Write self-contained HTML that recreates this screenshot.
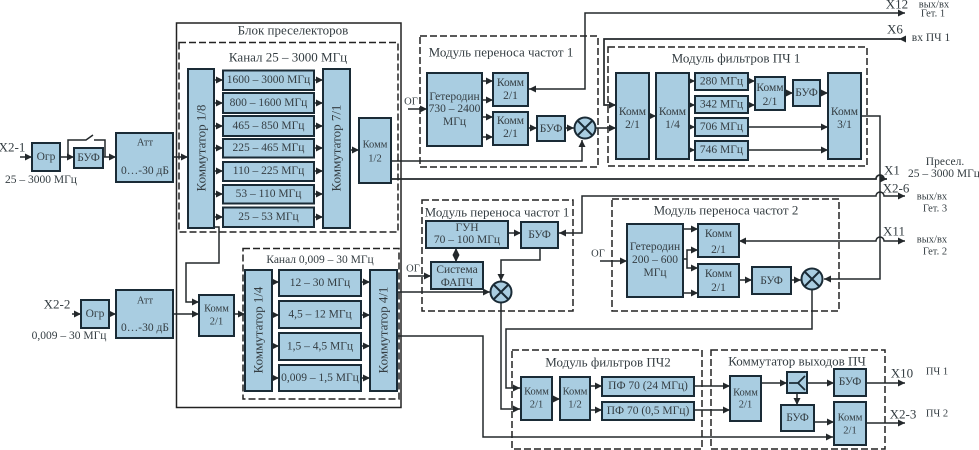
<!DOCTYPE html>
<html><head><meta charset="utf-8"><style>
html,body{margin:0;padding:0;background:#fff}
svg{display:block;filter:blur(.3px)}
text{font-family:"Liberation Serif",serif;fill:#343d42;font-size:11.5px;text-anchor:middle;dominant-baseline:central}
.b{fill:#a9cde1;stroke:#1a2b36;stroke-width:2}
.d{fill:none;stroke:#222;stroke-width:1.5;stroke-dasharray:7 3}
.l{fill:none;stroke:#23282b;stroke-width:1.5}
.t{font-size:13px}
.s{font-size:10.5px}
.m{fill:#a9cde1;stroke:#1a2b36;stroke-width:2}
</style></head><body>
<svg width="979" height="450" viewBox="0 0 979 450" xmlns="http://www.w3.org/2000/svg">
<defs>
<marker id="a" markerUnits="userSpaceOnUse" markerWidth="8" markerHeight="7" refX="7" refY="3.5" orient="auto-start-reverse"><path d="M0 0L7 3.5L0 7z" fill="#23282b"/></marker>
</defs>

<rect x="176.500" y="23" width="224.500" height="384.500" fill="none" stroke="#222" stroke-width="1.5"/>
<rect class="d" x="179" y="42.500" width="219" height="189.500"/>
<rect class="d" x="243" y="248.500" width="156" height="150.500"/>
<rect class="d" x="420" y="36" width="178" height="131"/>
<rect class="d" x="608" y="47" width="259" height="119"/>
<rect class="d" x="422" y="200" width="151" height="111"/>
<rect class="d" x="612" y="199" width="227" height="112"/>
<rect class="d" x="512" y="350" width="190" height="99"/>
<rect class="d" x="711" y="350" width="174" height="99"/>

<g class="l">
<path d="M20 157H32" marker-end="url(#a)"/>
<path d="M60 157H74" marker-end="url(#a)"/>
<path d="M103 157H116" marker-end="url(#a)"/>
<path d="M68 157V140H86L93 135M94 140H105V157"/>
<path d="M173 157H188" marker-end="url(#a)"/>
<path d="M214 80H223" marker-end="url(#a)"/><path d="M214 103H223" marker-end="url(#a)"/><path d="M214 126H223" marker-end="url(#a)"/><path d="M214 148H223" marker-end="url(#a)"/><path d="M214 171H223" marker-end="url(#a)"/><path d="M214 194H223" marker-end="url(#a)"/><path d="M214 217H223" marker-end="url(#a)"/>
<path d="M314 80H323" marker-end="url(#a)"/><path d="M314 103H323" marker-end="url(#a)"/><path d="M314 126H323" marker-end="url(#a)"/><path d="M314 148H323" marker-end="url(#a)"/><path d="M314 171H323" marker-end="url(#a)"/><path d="M314 194H323" marker-end="url(#a)"/><path d="M314 217H323" marker-end="url(#a)"/>
<path d="M350 150H359" marker-end="url(#a)"/>
<path d="M214 227H219V263H186V302H199" marker-end="url(#a)"/>
<path d="M72 314H81" marker-end="url(#a)"/>
<path d="M109 314H116" marker-end="url(#a)"/>
<path d="M173 314H199" marker-end="url(#a)"/>
<path d="M234 314H245" marker-end="url(#a)"/>
<path d="M272 282H279" marker-end="url(#a)"/><path d="M272 315H279" marker-end="url(#a)"/><path d="M272 346H279" marker-end="url(#a)"/><path d="M272 378H279" marker-end="url(#a)"/>
<path d="M361 282H370" marker-end="url(#a)"/><path d="M361 315H370" marker-end="url(#a)"/><path d="M361 346H370" marker-end="url(#a)"/><path d="M361 378H370" marker-end="url(#a)"/>
<path d="M391 161H582V140" marker-end="url(#a)"/>
<path d="M391 179H876a4 4 0 0 1 8 0H887" marker-end="url(#a)" stroke-width="1.8"/>
<path d="M408 109H427" marker-end="url(#a)"/>
<path d="M482 81H493" marker-end="url(#a)"/><path d="M482 100H493" marker-end="url(#a)"/><path d="M482 117H493" marker-end="url(#a)"/><path d="M482 137H493" marker-end="url(#a)"/>
<path d="M528 128H537" marker-end="url(#a)"/>
<path d="M565 128H574" marker-end="url(#a)"/>
<path d="M596 128H616" marker-end="url(#a)"/>
<path d="M905 13H585V89H529" marker-start="url(#a)" marker-end="url(#a)"/>
<path d="M900 39H604V105H616" marker-end="url(#a)" stroke-width="1.7"/>
<path d="M906 39H899" marker-end="url(#a)"/>
<path d="M649 116H656" marker-end="url(#a)"/>
<path d="M689 81H695" marker-end="url(#a)"/><path d="M689 105H695" marker-end="url(#a)"/><path d="M689 127H695" marker-end="url(#a)"/><path d="M689 150H695" marker-end="url(#a)"/>
<path d="M748 81H755" marker-end="url(#a)"/><path d="M748 105H755" marker-end="url(#a)"/>
<path d="M785 93H793" marker-end="url(#a)"/><path d="M820 93H828" marker-end="url(#a)"/>
<path d="M748 127H828" marker-end="url(#a)"/><path d="M748 150H828" marker-end="url(#a)"/>
<path d="M861 116H880V279H824" marker-end="url(#a)"/>
<path d="M559 233H582V196H876a4 4 0 0 1 8 0H905" marker-start="url(#a)" marker-end="url(#a)"/>
<path d="M739 241H876a4 4 0 0 1 8 0H905" marker-start="url(#a)" marker-end="url(#a)"/>
<path d="M508 233H521" marker-end="url(#a)"/>
<path d="M456 248V262" marker-start="url(#a)" marker-end="url(#a)"/>
<path d="M540 248V260H501V281" marker-end="url(#a)"/>
<path d="M408 276H431" marker-end="url(#a)"/>
<path d="M397 292H490" marker-end="url(#a)"/>
<path d="M397 336H483V437H833" marker-end="url(#a)"/>
<path d="M501 303V409H520" marker-end="url(#a)"/>
<path d="M812 290V329H506V388H520" marker-end="url(#a)"/>
<path d="M600 261H627" marker-end="url(#a)"/>
<path d="M683 229H698" marker-end="url(#a)"/>
<path d="M683 293H698" marker-end="url(#a)"/>
<path d="M698 250H687V268H698" marker-start="url(#a)" marker-end="url(#a)"/>
<path d="M683 259H687"/>
<path d="M739 280H752" marker-end="url(#a)"/>
<path d="M791 280H801" marker-end="url(#a)"/>
<path d="M552 399H560" marker-end="url(#a)"/>
<path d="M590 386H602" marker-end="url(#a)"/><path d="M590 410H602" marker-end="url(#a)"/>
<path d="M694 386H730" marker-end="url(#a)"/><path d="M694 410H730" marker-end="url(#a)"/>
<path d="M761 383H787" marker-end="url(#a)"/><path d="M807 383H834" marker-end="url(#a)"/>
<path d="M797 393V405" marker-end="url(#a)"/>
<path d="M814 422H834" marker-end="url(#a)"/>
<path d="M866 383H905" marker-end="url(#a)"/><path d="M866 423H905" marker-end="url(#a)"/>
</g>

<rect class="b" x="32" y="143" width="28" height="28"/>
<rect class="b" x="74" y="148" width="29" height="20"/>
<rect class="b" x="116" y="133" width="57" height="49" stroke-width="1.4"/>
<rect class="b" x="81" y="300" width="28" height="28"/>
<rect class="b" x="116" y="290" width="57" height="48" stroke-width="1.4"/>
<rect class="b" x="188" y="69" width="26" height="159"/>
<rect class="b" x="223" y="70.500" width="91" height="19.500"/>
<rect class="b" x="223" y="93" width="91" height="20"/>
<rect class="b" x="223" y="116" width="91" height="20"/>
<rect class="b" x="223" y="139" width="91" height="18.500"/>
<rect class="b" x="223" y="162" width="91" height="19"/>
<rect class="b" x="223" y="185" width="91" height="18.500"/>
<rect class="b" x="223" y="207.500" width="91" height="19.500"/>
<rect class="b" x="323" y="69" width="27" height="159"/>
<rect class="b" x="359" y="118" width="32" height="65"/>
<rect class="b" x="199" y="295" width="35" height="41"/>
<rect class="b" x="245" y="270" width="27" height="121"/>
<rect class="b" x="279" y="270" width="82" height="26"/>
<rect class="b" x="279" y="301" width="82" height="27"/>
<rect class="b" x="279" y="333" width="82" height="27"/>
<rect class="b" x="279" y="365" width="82" height="26"/>
<rect class="b" x="370" y="270" width="27" height="121"/>
<rect class="b" x="427" y="73" width="55" height="73"/>
<rect class="b" x="493" y="73" width="35" height="33"/>
<rect class="b" x="493" y="112" width="35" height="33"/>
<rect class="b" x="537" y="116" width="28" height="25"/>
<rect class="b" x="616" y="73" width="33" height="86"/>
<rect class="b" x="656" y="73" width="33" height="86"/>
<rect class="b" x="695" y="73" width="53" height="17"/>
<rect class="b" x="695" y="96" width="53" height="17"/>
<rect class="b" x="695" y="118" width="53" height="18"/>
<rect class="b" x="695" y="141" width="53" height="19"/>
<rect class="b" x="755" y="77" width="30" height="33"/>
<rect class="b" x="793" y="80" width="27" height="26"/>
<rect class="b" x="828" y="73" width="33" height="86"/>
<rect class="b" x="426" y="221" width="82" height="27"/>
<rect class="b" x="521" y="222" width="37" height="26"/>
<rect class="b" x="431" y="262" width="52" height="27"/>
<rect class="b" x="627" y="224" width="56" height="73"/>
<rect class="b" x="698" y="224" width="41" height="33"/>
<rect class="b" x="698" y="264" width="41" height="33"/>
<rect class="b" x="752" y="267" width="39" height="27"/>
<rect class="b" x="521" y="377" width="31" height="43"/>
<rect class="b" x="560" y="377" width="30" height="43"/>
<rect class="b" x="602" y="377" width="92" height="19"/>
<rect class="b" x="602" y="402" width="92" height="18"/>
<rect class="b" x="730" y="376" width="31" height="45"/>
<rect class="b" x="787" y="372" width="20" height="21"/>
<rect class="b" x="834" y="369" width="32" height="27"/>
<rect class="b" x="781" y="405" width="33" height="26"/>
<rect class="b" x="834" y="402" width="32" height="43"/>
<path d="M789 383H798L805 376M798 383L805 390" fill="none" stroke="#1a2b36" stroke-width="1.8"/>

<g>
<circle class="m" cx="585" cy="128" r="10.500"/><path d="M578 121L592 135M592 121L578 135" stroke="#1a2b36" stroke-width="2"/>
<circle class="m" cx="501" cy="292" r="10.500"/><path d="M494 285L508 299M508 285L494 299" stroke="#1a2b36" stroke-width="2"/>
<circle class="m" cx="812" cy="279" r="10.500"/><path d="M805 272L819 286M819 272L805 286" stroke="#1a2b36" stroke-width="2"/>
</g>

<text x="293" y="30" class="t">Блок преселекторов</text>
<text x="288" y="57" class="t">Канал 25 – 3000 МГц</text>
<text x="320" y="260">Канал 0,009 – 30 МГц</text>
<text x="501" y="52" class="t">Модуль переноса частот 1</text>
<text x="736" y="58" class="t">Модуль фильтров ПЧ 1</text>
<text x="497" y="212" class="t">Модуль переноса частот 1</text>
<text x="726" y="210" class="t">Модуль переноса частот 2</text>
<text x="608" y="362" class="t">Модуль фильтров ПЧ2</text>
<text x="797" y="361" class="t">Коммутатор выходов ПЧ</text>

<text x="12" y="147" class="t">X2-1</text>
<text x="41" y="180">25 – 3000 МГц</text>
<text x="46" y="157">Огр</text>
<text x="88.500" y="158">БУФ</text>
<text x="145" y="143" class="s">Атт</text>
<text x="145" y="171">0…-30 дБ</text>
<text x="57" y="304" class="t">X2-2</text>
<text x="69" y="336">0,009 – 30 МГц</text>
<text x="95" y="314">Огр</text>
<text x="145" y="301" class="s">Атт</text>
<text x="145" y="328">0…-30 дБ</text>

<text class="t" transform="translate(201 148) rotate(-90)">Коммутатор 1/8</text>
<text class="t" transform="translate(336 148) rotate(-90)">Коммутатор 7/1</text>
<text class="t" transform="translate(258 330) rotate(-90)">Коммутатор 1/4</text>
<text class="t" transform="translate(383 330) rotate(-90)">Коммутатор 4/1</text>

<text x="268.500" y="80">1600 – 3000 МГц</text>
<text x="268.500" y="103">800 – 1600 МГц</text>
<text x="268.500" y="126">465 – 850 МГц</text>
<text x="268.500" y="148">225 – 465 МГц</text>
<text x="268.500" y="171">110 – 225 МГц</text>
<text x="268.500" y="194">53 – 110 МГц</text>
<text x="268.500" y="217">25 – 53 МГц</text>
<text x="375" y="145" class="s">Комм</text><text x="375" y="159" class="s">1/2</text>
<text x="216.500" y="309" class="s">Комм</text><text x="216.500" y="322" class="s">2/1</text>
<text x="320" y="283">12 – 30 МГц</text>
<text x="320" y="314.500">4,5 – 12 МГц</text>
<text x="320" y="346.500">1,5 – 4,5 МГц</text>
<text x="320" y="378">0,009 – 1,5 МГц</text>

<text x="411" y="102" class="s">ОГ</text>
<text x="454.500" y="97">Гетеродин</text><text x="454.500" y="109">730 – 2400</text><text x="454.500" y="122">МГц</text>
<text x="510.500" y="83">Комм</text><text x="510.500" y="96">2/1</text>
<text x="510.500" y="121">Комм</text><text x="510.500" y="134">2/1</text>
<text x="551" y="129">БУФ</text>
<text x="632.500" y="112">Комм</text><text x="632.500" y="125">2/1</text>
<text x="672.500" y="112">Комм</text><text x="672.500" y="125">1/4</text>
<text x="721.500" y="81.500">280 МГц</text>
<text x="721.500" y="104.500">342 МГц</text>
<text x="721.500" y="127">706 МГц</text>
<text x="721.500" y="150">746 МГц</text>
<text x="770" y="88">Комм</text><text x="770" y="102">2/1</text>
<text x="806.500" y="93">БУФ</text>
<text x="844.500" y="112">Комм</text><text x="844.500" y="125">3/1</text>

<text x="467" y="228">ГУН</text><text x="467" y="240">70 – 100 МГц</text>
<text x="539.500" y="235">БУФ</text>
<text x="457" y="270">Система</text><text x="457" y="283">ФАПЧ</text>
<text x="413" y="269" class="s">ОГ</text>
<text x="598" y="254" class="s">ОГ</text>
<text x="655" y="247">Гетеродин</text><text x="655" y="260">200 – 600</text><text x="655" y="273">МГц</text>
<text x="718.500" y="234">Комм</text><text x="718.500" y="250">2/1</text>
<text x="718.500" y="274">Комм</text><text x="718.500" y="288">2/1</text>
<text x="771.500" y="281">БУФ</text>

<text x="536.500" y="392" class="s">Комм</text><text x="536.500" y="405" class="s">2/1</text>
<text x="575" y="392" class="s">Комм</text><text x="575" y="405" class="s">1/2</text>
<text x="648" y="386">ПФ 70 (24 МГц)</text>
<text x="648" y="411">ПФ 70 (0,5 МГц)</text>
<text x="745.500" y="393" class="s">Комм</text><text x="745.500" y="405" class="s">2/1</text>
<text x="850" y="382">БУФ</text>
<text x="797.500" y="418">БУФ</text>
<text x="850" y="418" class="s">Комм</text><text x="850" y="431" class="s">2/1</text>

<text x="897" y="4" class="t">X12</text>
<text x="934" y="5" class="s">вых/вх</text><text x="933" y="14" class="s">Гет. 1</text>
<text x="895" y="29" class="t">X6</text>
<text x="931" y="38">вх ПЧ 1</text>
<text x="892" y="170" class="t">X1</text>
<text x="945" y="162">Пресел.</text><text x="944" y="174">25 – 3000 МГц</text>
<text x="896" y="188" class="t">X2-6</text>
<text x="932" y="197" class="s">вых/вх</text><text x="935" y="209" class="s">Гет. 3</text>
<text x="894" y="231" class="t">X11</text>
<text x="932" y="240" class="s">вых/вх</text><text x="935" y="252" class="s">Гет. 2</text>
<text x="902" y="373" class="t">X10</text>
<text x="937" y="372" class="s">ПЧ 1</text>
<text x="903" y="414" class="t">X2-3</text>
<text x="937" y="414" class="s">ПЧ 2</text>
</svg>
</body></html>
